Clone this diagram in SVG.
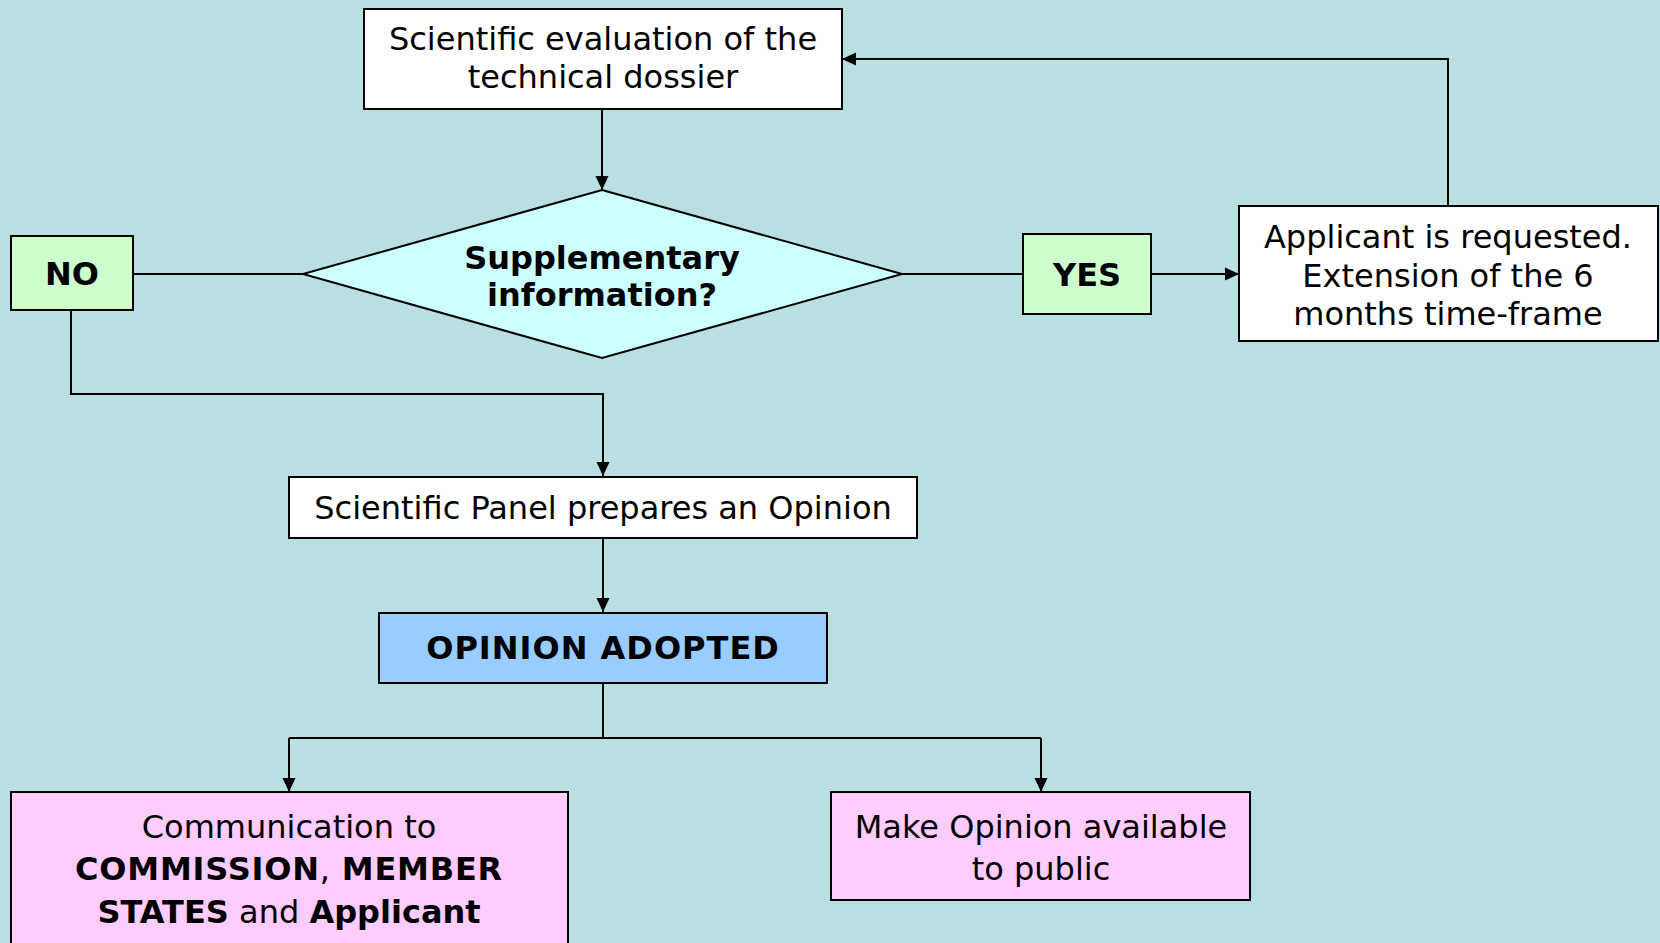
<svg xmlns="http://www.w3.org/2000/svg" width="1660" height="943" viewBox="0 0 1660 943">
<defs>
<style>
.bg{fill:#B9DFE2}
.box{stroke:#000;stroke-width:2}
.white{fill:#FFFFFF}
.green{fill:#CCFFCC}
.cyan{fill:#CCFFFF}
.blue{fill:#99CCFF}
.pink{fill:#FFCCFF}
text{font-family:"DejaVu Sans","Verdana",sans-serif;font-size:32px;fill:#000;text-anchor:middle}
.b{font-weight:bold}
.conn{fill:none;stroke:#000;stroke-width:2}
</style>
<marker id="arr" viewBox="0 0 14 14" refX="14" refY="7" markerWidth="14" markerHeight="14" markerUnits="userSpaceOnUse" orient="auto">
<path d="M0,0.5 L14,7 L0,13.5 Z" fill="#000"/>
</marker>
</defs>
<rect class="bg" x="0" y="0" width="1660" height="943"/>
<g id="connectors">
<path class="conn" d="M602,109 L602,190" marker-end="url(#arr)"/>
<path class="conn" d="M133,274 L303,274"/>
<path class="conn" d="M902,274 L1023,274"/>
<path class="conn" d="M1151,274 L1239,274" marker-end="url(#arr)"/>
<path class="conn" d="M1448,206 L1448,59 L842,59" marker-end="url(#arr)"/>
<path class="conn" d="M71,310 L71,394 L603,394 L603,476" marker-end="url(#arr)"/>
<path class="conn" d="M603,538 L603,612" marker-end="url(#arr)"/>
<path class="conn" d="M603,683 L603,738"/>
<path class="conn" d="M289,738 L1041,738"/>
<path class="conn" d="M289,738 L289,792" marker-end="url(#arr)"/>
<path class="conn" d="M1041,738 L1041,792" marker-end="url(#arr)"/>
</g>
<g id="n-eval">
<rect class="box white" x="364" y="9" width="478" height="100"/>
<text x="603" y="50">Scientific evaluation of the</text>
<text x="603" y="88">technical dossier</text>
</g>
<g id="n-decision">
<polygon class="box cyan" points="602,190 902,274 602,358 303,274"/>
<text class="b" x="602" y="269">Supplementary</text>
<text class="b" x="602" y="306">information?</text>
</g>
<g id="n-no">
<rect class="box green" x="11" y="236" width="122" height="74"/>
<text class="b" x="72" y="285">NO</text>
</g>
<g id="n-yes">
<rect class="box green" x="1023" y="234" width="128" height="80"/>
<text class="b" x="1087" y="286">YES</text>
</g>
<g id="n-applicant">
<rect class="box white" x="1239" y="206" width="419" height="135"/>
<text x="1448" y="248">Applicant is requested.</text>
<text x="1448" y="287">Extension of the 6</text>
<text x="1448" y="325">months time-frame</text>
</g>
<g id="n-panel">
<rect class="box white" x="289" y="477" width="628" height="61"/>
<text x="603" y="519">Scientific Panel prepares an Opinion</text>
</g>
<g id="n-adopted">
<rect class="box blue" x="379" y="613" width="448" height="70"/>
<text class="b" x="603" y="659" letter-spacing="1">OPINION ADOPTED</text>
</g>
<g id="n-communication">
<rect class="box pink" x="11" y="792" width="557" height="160"/>
<text x="289" y="838">Communication to</text>
<text x="289" y="880" letter-spacing="0.8"><tspan class="b">COMMISSION</tspan>, <tspan class="b">MEMBER</tspan></text>
<text x="289" y="923"><tspan class="b">STATES</tspan> and <tspan class="b">Applicant</tspan></text>
</g>
<g id="n-public">
<rect class="box pink" x="831" y="792" width="419" height="108"/>
<text x="1041" y="838">Make Opinion available</text>
<text x="1041" y="880">to public</text>
</g>
</svg>
